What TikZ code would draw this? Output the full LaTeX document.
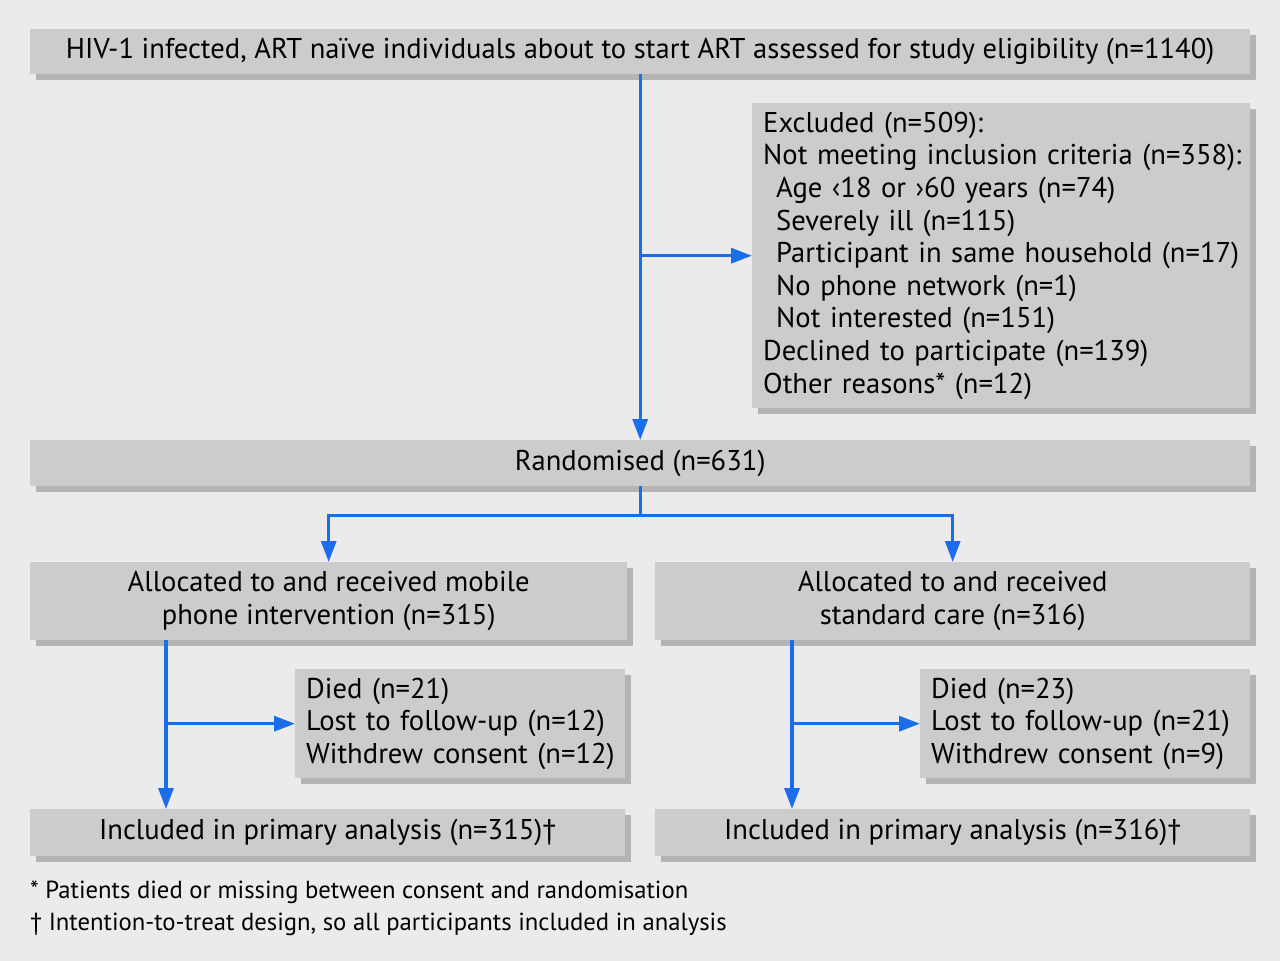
\documentclass[tikz,border=0pt]{standalone}
\usepackage{fontspec}
\setmainfont{PT Sans}
\usetikzlibrary{arrows.meta,shadows,calc}
\definecolor{bg}{HTML}{EBEBEB}
\definecolor{boxfill}{HTML}{CCCCCC}
\definecolor{shadowgray}{HTML}{B4B4B4}
\definecolor{arrowblue}{HTML}{1C6DEA}
\begin{document}
\begin{tikzpicture}[x=1pt,y=-1pt,
  box/.style={fill=boxfill, draw=none, inner sep=0pt, anchor=north west,
    font=\fontsize{28.6}{32.6}\selectfont,
    drop shadow={shadow xshift=6pt, shadow yshift=-6pt, fill=shadowgray, opacity=1}},
  arr/.style={draw=arrowblue, line width=3.2pt, -{Triangle[length=21pt,width=15pt]}},
  ln/.style={draw=arrowblue, line width=3.2pt},
  note/.style={anchor=west, inner sep=0pt, font=\fontsize{24.7}{28}\selectfont}]
\fill[bg] (0,0) rectangle (1280,961);
\useasboundingbox (0,0) rectangle (1280,961);
% boxes
\node[box, minimum width=1220pt, minimum height=45pt] (top) at (30,29)
  {HIV-1 infected, ART naïve individuals about to start ART assessed for study eligibility (n=1140)};
\node[box, minimum width=498pt, minimum height=305pt, align=left, text width=476pt, inner xsep=11pt] (excl) at (752,103)
  {Excluded (n=509):\\
   \mbox{Not meeting inclusion criteria (n=358):}\\
   \hspace*{13pt}Age ‹18 or ›60 years (n=74)\\
   \hspace*{13pt}Severely ill (n=115)\\
   \mbox{\hspace*{13pt}Participant in same household (n=17)}\\
   \hspace*{13pt}No phone network (n=1)\\
   \hspace*{13pt}Not interested (n=151)\\
   Declined to participate (n=139)\\
   Other reasons* (n=12)};
\node[box, minimum width=1220pt, minimum height=46pt] (rand) at (30,440) {Randomised (n=631)};
\node[box, minimum width=597pt, minimum height=78pt, align=center] (allocL) at (30,562)
  {Allocated to and received mobile\\phone intervention (n=315)};
\node[box, minimum width=595pt, minimum height=78pt, align=center] (allocR) at (655,562)
  {Allocated to and received\\standard care (n=316)};
\node[box, minimum width=330pt, minimum height=109pt, align=left, text width=308pt, inner xsep=11pt] (diedL) at (295,669)
  {Died (n=21)\\\mbox{Lost to follow-up (n=12)}\\\mbox{Withdrew consent (n=12)}};
\node[box, minimum width=330pt, minimum height=109pt, align=left, text width=308pt, inner xsep=11pt] (diedR) at (920,669)
  {Died (n=23)\\\mbox{Lost to follow-up (n=21)}\\\mbox{Withdrew consent (n=9)}};
\node[box, minimum width=595pt, minimum height=47pt] (inclL) at (30,809) {Included in primary analysis (n=315)†};
\node[box, minimum width=595pt, minimum height=47pt] (inclR) at (655,809) {Included in primary analysis (n=316)†};
% notes
\node[note] (n1) at (30,892) {* Patients died or missing between consent and randomisation};
\node[note] (n2) at (30,924) {† Intention-to-treat design, so all participants included in analysis};
% connectors
\draw[arr] (top.south) -- (rand.north);
\draw[arr] (top.south |- excl.west) -- (excl.west);
\coordinate (split) at ($(rand.south)+(0,29)$);
\draw[ln] (rand.south) -- (split);
\draw[arr] (split) -| (allocL.north);
\draw[arr] (split) -| (allocR.north);
\coordinate (lx) at ($(allocL.south west)+(136,0)$);
\coordinate (rx) at ($(allocR.south west)+(137,0)$);
\draw[arr] (lx) -- (lx |- inclL.north);
\draw[arr] (lx |- diedL.west) -- (diedL.west);
\draw[arr] (rx) -- (rx |- inclR.north);
\draw[arr] (rx |- diedR.west) -- (diedR.west);
\end{tikzpicture}
\end{document}
